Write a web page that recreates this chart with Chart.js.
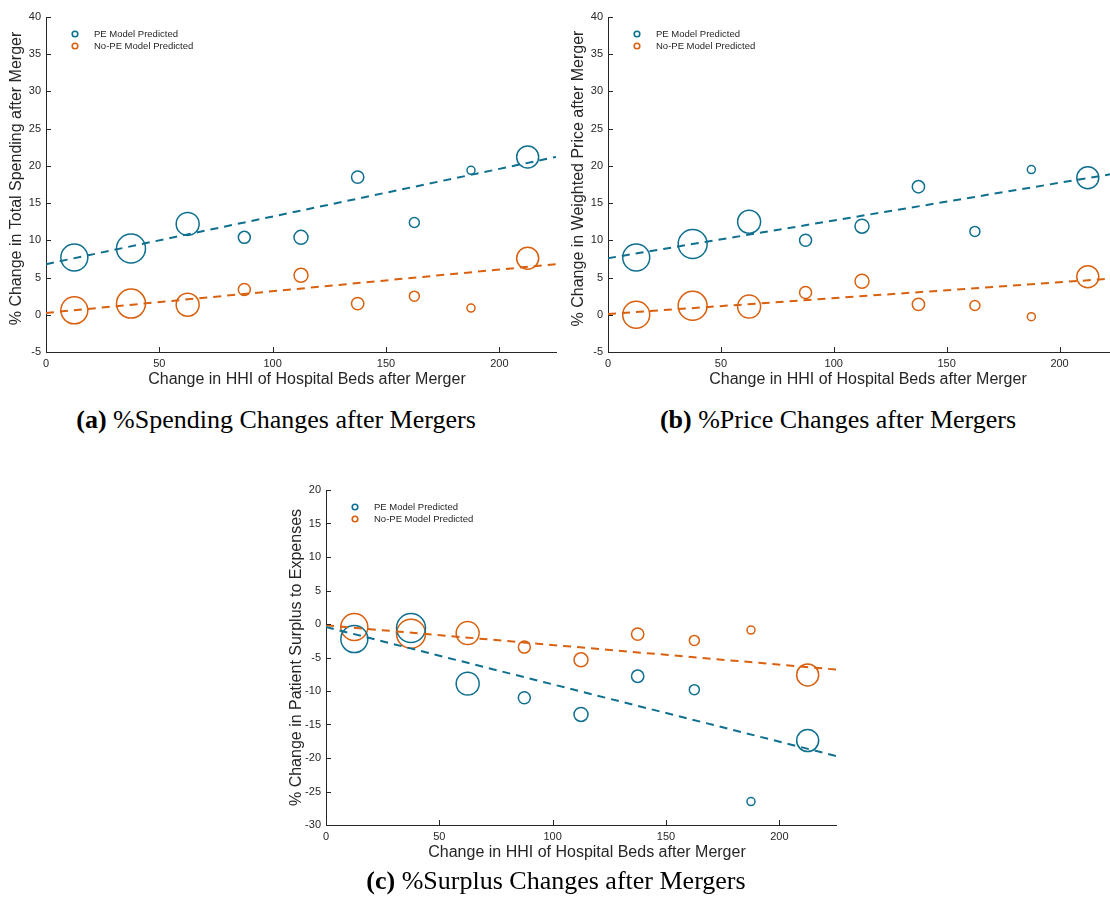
<!DOCTYPE html>
<html>
<head>
<meta charset="utf-8">
<script src="https://cdn.jsdelivr.net/npm/chart.js@4.4.1/dist/chart.umd.min.js"></script>
<style>
  html, body { margin: 0; padding: 0; background: #ffffff; overflow: hidden; width: 1110px; height: 905px; }
  .pane { position: absolute; }
  .pane canvas { display: block; }
  .cap { position: absolute; font-family: "Liberation Serif", "Times New Roman", serif; font-size: 26px; line-height: 30px; color: #000; white-space: nowrap; transform: translateX(-50%); }
  .cap b { font-weight: bold; }
</style>
</head>
<body>
<div class="pane" style="left:0px;top:0px;"><canvas id="chartA" width="560" height="400"></canvas></div>
<div class="pane" style="left:560px;top:0px;"><canvas id="chartB" width="560" height="400"></canvas></div>
<div class="pane" style="left:280px;top:473px;"><canvas id="chartC" width="560" height="400"></canvas></div>

<div class="cap" style="left:276px;top:405px;"><b>(a)</b> %Spending Changes after Mergers</div>
<div class="cap" style="left:838px;top:405px;"><b>(b)</b> %Price Changes after Mergers</div>
<div class="cap" style="left:556px;top:866px;"><b>(c)</b> %Surplus Changes after Mergers</div>

<script>
// ---------------- data ----------------
const hhiBins = [12.5, 37.5, 62.5, 87.5, 112.5, 137.5, 162.5, 187.5, 212.5];
const binWeights = [182, 210, 132, 36, 49, 38, 25, 16, 121];

const spendingPE   = [7.7, 8.9, 12.2, 10.4, 10.4, 18.5, 12.4, 19.4, 21.2];
const spendingNoPE = [0.6, 1.5, 1.35, 3.4, 5.3, 1.5, 2.5, 0.9, 7.6];
const pricePE      = [7.7, 9.5, 12.5, 10.0, 11.9, 17.2, 11.2, 19.5, 18.4];
const priceNoPE    = [0.0, 1.2, 1.1, 3.0, 4.5, 1.4, 1.25, -0.25, 5.1];
const surplusPE    = [-2.25, -0.6, -8.9, -11.0, -13.5, -7.8, -9.8, -26.5, -17.4];
const surplusNoPE  = [-0.45, -1.45, -1.35, -3.45, -5.35, -1.5, -2.45, -0.9, -7.6];

const fitX = [0, 225];
const spendingPEFit   = [6.8, 21.2];
const spendingNoPEFit = [0.25, 6.8];
const pricePEFit      = [7.6, 19.0];
const priceNoPEFit    = [0.1, 4.9];
const surplusPEFit    = [-0.45, -19.7];
const surplusNoPEFit  = [-0.2, -6.8];

const xTicks = [0, 50, 100, 150, 200];
const spendingYTicks = [-5, 0, 5, 10, 15, 20, 25, 30, 35, 40];
const priceYTicks    = [-5, 0, 5, 10, 15, 20, 25, 30, 35, 40];
const surplusYTicks  = [-30, -25, -20, -15, -10, -5, 0, 5, 10, 15, 20];

const seriesLabels = ['PE Model Predicted', 'No-PE Model Predicted'];
const xTitle = 'Change in HHI of Hospital Beds after Merger';

// ---------------- styles ----------------
const peColor = '#0e6f8f';
const noPeColor = '#d9600e';
const axisColor = '#262626';
const textColor = '#262626';
const sansFamily = '"Liberation Sans", Arial, Helvetica, sans-serif';

const axisDecor = {
  id: 'axisDecor',
  afterDraw(chart, args, opts) {
    const { ctx, chartArea, scales } = chart;
    const xs = scales.x, ys = scales.y;
    ctx.save();
    ctx.strokeStyle = axisColor;
    ctx.lineWidth = 1;
    ctx.beginPath();
    xs.ticks.forEach(t => {
      const px = Math.round(xs.getPixelForValue(t.value)) + 0.5;
      ctx.moveTo(px, chartArea.bottom);
      ctx.lineTo(px, chartArea.bottom - 5);
    });
    ys.ticks.forEach(t => {
      const py = Math.round(ys.getPixelForValue(t.value)) + 0.5;
      ctx.moveTo(chartArea.left, py);
      ctx.lineTo(chartArea.left + 5, py);
    });
    ctx.stroke();

    ctx.font = '16px ' + sansFamily;
    ctx.fillStyle = textColor;
    ctx.textAlign = 'center';
    ctx.textBaseline = 'middle';
    // x-axis title
    ctx.fillText(opts.xTitle, (chartArea.left + chartArea.right) / 2 + 6, chartArea.bottom + 28);
    // y-axis title (rotated)
    ctx.save();
    ctx.translate(chartArea.left - 29.5, (chartArea.top + chartArea.bottom) / 2 - opts.yTitleShift);
    ctx.rotate(-Math.PI / 2);
    ctx.fillText(opts.yTitle, 0, 0);
    ctx.restore();

    // legend inside the axes, top-left
    const entries = chart.data.datasets.filter(d => d.isSeries);
    ctx.font = '9.5px ' + sansFamily;
    ctx.textBaseline = 'middle';
    ctx.textAlign = 'left';
    entries.forEach((d, i) => {
      const cy = chartArea.top + 17 + i * 12;
      const cx = chartArea.left + 29;
      ctx.beginPath();
      ctx.strokeStyle = d.borderColor;
      ctx.lineWidth = 1.6;
      ctx.arc(cx, cy, 2.8, 0, Math.PI * 2);
      ctx.stroke();
      ctx.fillStyle = textColor;
      ctx.fillText(d.label, chartArea.left + 48, cy + 0.5);
    });
    ctx.restore();
  }
};

function scatterData(vals) {
  return hhiBins.map((x, i) => ({ x: x, y: vals[i] }));
}
function fitData(vals) {
  return fitX.map((x, i) => ({ x: x, y: vals[i] }));
}

function makeChart(id, peVals, noPeVals, peFit, noPeFit, yTicks, yTitle, yAxisWidth, yTitleShift) {
  const radii = binWeights.map(w => Math.sqrt(w));
  return new Chart(document.getElementById(id), {
    type: 'scatter',
    data: {
      datasets: [
        { type: 'line', label: 'PE fit', data: fitData(peFit), borderColor: peColor, borderWidth: 2,
          borderDash: [8, 6], pointRadius: 0, fill: false, tension: 0 },
        { type: 'line', label: 'No-PE fit', data: fitData(noPeFit), borderColor: noPeColor, borderWidth: 2,
          borderDash: [8, 6], pointRadius: 0, fill: false, tension: 0 },
        { label: seriesLabels[0], isSeries: true, data: scatterData(peVals), borderColor: peColor,
          backgroundColor: 'rgba(0,0,0,0)', pointRadius: radii, pointHoverRadius: radii, pointBorderWidth: 1.5 },
        { label: seriesLabels[1], isSeries: true, data: scatterData(noPeVals), borderColor: noPeColor,
          backgroundColor: 'rgba(0,0,0,0)', pointRadius: radii, pointHoverRadius: radii, pointBorderWidth: 1.5 }
      ]
    },
    options: {
      responsive: false,
      animation: false,
      devicePixelRatio: 1,
      layout: { autoPadding: false, padding: { top: 17, right: 4, left: 0, bottom: 0 } },
      plugins: { legend: { display: false }, tooltip: { enabled: false },
                 axisDecor: { xTitle: xTitle, yTitle: yTitle, yTitleShift: yTitleShift } },
      scales: {
        x: {
          type: 'linear', min: fitX[0], max: fitX[1],
          afterBuildTicks: s => { s.ticks = xTicks.map(v => ({ value: v })); },
          afterFit: s => { s.height = 48; s.paddingLeft = 0; s.paddingRight = 0; },
          grid: { display: true, drawOnChartArea: false, drawTicks: false },
          border: { display: true, color: axisColor, width: 1 },
          ticks: { color: textColor, font: { family: sansFamily, size: 11 }, padding: 5, maxRotation: 0, autoSkip: false }
        },
        y: {
          type: 'linear', min: yTicks[0], max: yTicks[yTicks.length - 1],
          afterBuildTicks: s => { s.ticks = yTicks.map(v => ({ value: v })); },
          afterFit: s => { s.width = yAxisWidth; s.paddingTop = 0; s.paddingBottom = 0; },
          grid: { display: true, drawOnChartArea: false, drawTicks: false },
          border: { display: true, color: axisColor, width: 1 },
          ticks: { color: textColor, font: { family: sansFamily, size: 11 }, padding: 5, autoSkip: false }
        }
      }
    },
    plugins: [axisDecor]
  });
}

makeChart('chartA', spendingPE, spendingNoPE, spendingPEFit, spendingNoPEFit, spendingYTicks,
  '% Change in Total Spending after Merger', 46, 6);
makeChart('chartB', pricePE, priceNoPE, pricePEFit, priceNoPEFit, priceYTicks,
  '% Change in Weighted Price after Merger', 48, 6);
makeChart('chartC', surplusPE, surplusNoPE, surplusPEFit, surplusNoPEFit, surplusYTicks,
  '% Change in Patient Surplus to Expenses', 46, 0);
</script>
</body>
</html>
